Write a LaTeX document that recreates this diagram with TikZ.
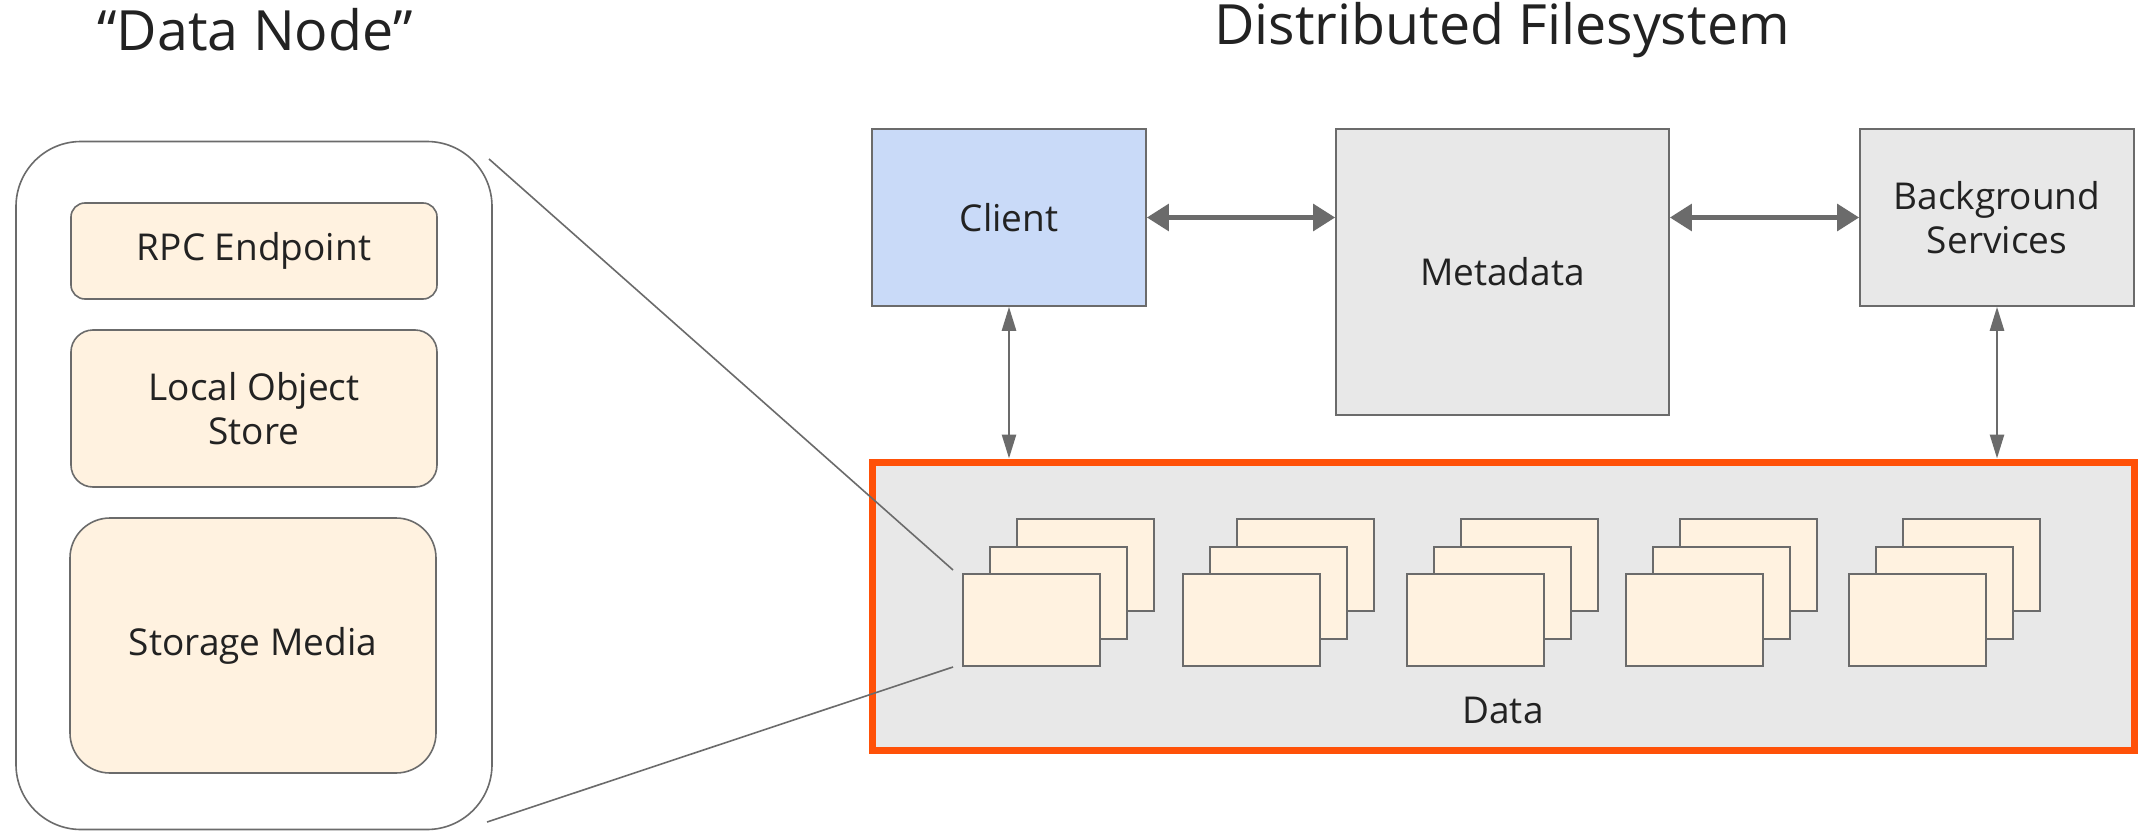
\documentclass[tikz,border=0pt]{standalone}
\usepackage{fontspec}
\setmainfont{Open Sans}
\usetikzlibrary{arrows.meta}
\definecolor{edge}{HTML}{6B6B6B}
\definecolor{cream}{HTML}{FFF2E0}
\definecolor{clientblue}{HTML}{C9DAF8}
\definecolor{panel}{HTML}{E8E8E8}
\definecolor{hot}{HTML}{FF5108}
\definecolor{ink}{HTML}{222222}
\begin{document}
\begin{tikzpicture}[x=1pt,y=-1pt,
  txt/.style={text=ink,font=\fontsize{37}{44}\selectfont,align=center,inner sep=0pt},
  title/.style={text=ink,font=\fontsize{55.5}{60}\selectfont,inner sep=0pt},
  part/.style={draw=edge,line width=1.6pt,fill=cream,txt},
  sysbox/.style={draw=edge,line width=1.6pt,txt},
  doc/.style={draw=edge,line width=1.8pt,fill=cream,minimum width=137pt,minimum height=92pt,inner sep=0pt},
  bigarrow/.style={draw=edge,fill=edge,line width=5.5pt,{Triangle[length=22pt,width=26pt]}-{Triangle[length=22pt,width=26pt]}},
  smallarrow/.style={draw=edge,fill=edge,line width=2.6pt,{Triangle[length=24pt,width=14pt]}-{Triangle[length=24pt,width=14pt]}},
  zoomline/.style={draw=edge,line width=1.6pt}
]
\useasboundingbox (0,0) rectangle (2149,832);
\fill[white] (0,0) rectangle (2149,832);

% titles
\node[title] (t1) at (255,30) {“Data Node”};
\node[title] (t2) at (1502,30) {Distributed Filesystem};

% data node detail
\node[draw=edge,line width=1.6pt,rounded corners=65pt,minimum width=476pt,minimum height=688pt,inner sep=0pt] (dn) at (254,485.5) {};
\node[part,rounded corners=14pt,minimum width=366pt,minimum height=96pt] (rpc) at (254,251) {RPC Endpoint};
\node[part,rounded corners=22pt,minimum width=366pt,minimum height=157pt] (los) at (254,408.5) {Local Object\\Store};
\node[part,rounded corners=40pt,minimum width=366pt,minimum height=255pt] (sm) at (253,645.5) {Storage Media};

% filesystem
\node[sysbox,fill=clientblue,minimum width=274pt,minimum height=177pt] (client) at (1009,217.5) {Client};
\node[sysbox,fill=panel,minimum width=333pt,minimum height=286pt] (meta) at (1502.5,272) {Metadata};
\node[sysbox,fill=panel,minimum width=274pt,minimum height=177pt] (bs) at (1997,217.5) {Background\\Services};

\node[draw=hot,fill=panel,line width=7pt,minimum width=1262pt,minimum height=288pt,inner sep=0pt] (data) at (1503,606) {};
\node[txt] (datalbl) at (1503,710) {Data};

% document stacks
\foreach \i/\x in {1/962,2/1182,3/1406,4/1625,5/1848}{
  \node[doc,anchor=north west] (d\i c) at (\x+54,518) {};
  \node[doc,anchor=north west] (d\i b) at (\x+27,546) {};
  \node[doc,anchor=north west] (d\i a) at (\x,573) {};
}

% connectors
\path[bigarrow] (client.east) -- (client.east -| meta.west);
\path[bigarrow] (meta.east |- bs.west) -- (bs.west);
\path[smallarrow] (client.south) -- (client.south |- data.north);
\path[smallarrow] (bs.south) -- (bs.south |- data.north);

% zoom lines
\coordinate (zt) at (489,159);
\coordinate (zb) at (487,822);
\coordinate (zt2) at (953,570);
\coordinate (zb2) at (953,667);
\draw[zoomline] (zt) -- (zt2);
\draw[zoomline] (zb) -- (zb2);
\end{tikzpicture}
\end{document}
